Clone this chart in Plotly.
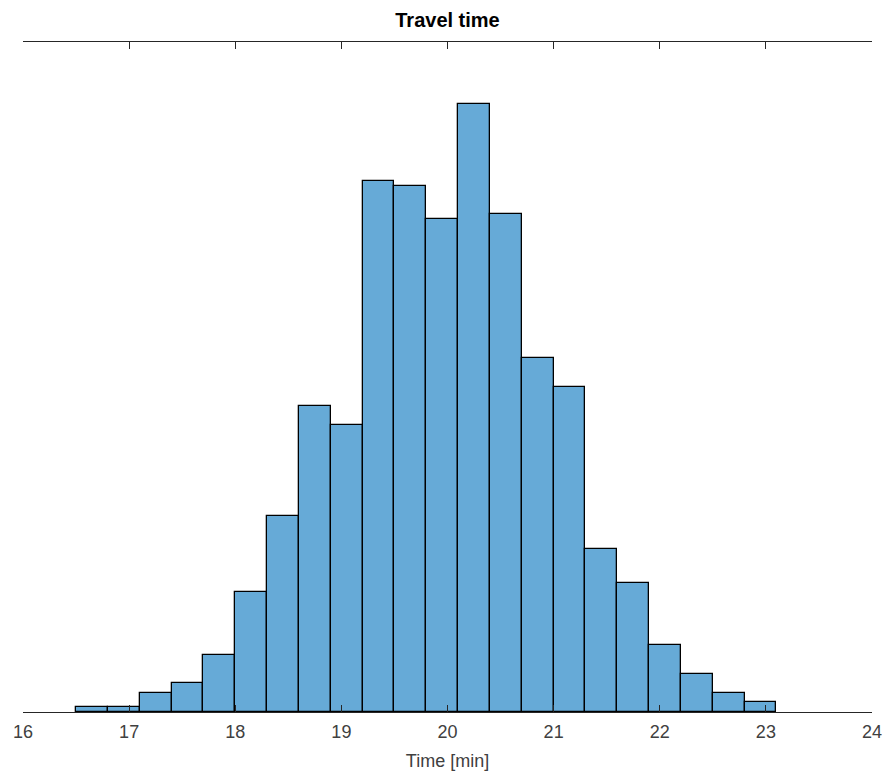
import plotly.graph_objects as go

# Histogram of simulated travel times (1000 trips), bins of 0.3 min
bin_left = [16.5, 16.8, 17.1, 17.4, 17.7, 18.0, 18.3, 18.6, 18.9, 19.2, 19.5,
            19.8, 20.1, 20.4, 20.7, 21.0, 21.3, 21.6, 21.9, 22.2, 22.5, 22.8]
bin_width = 0.3
counts = [1, 1, 4, 6, 12, 25, 41, 64, 60, 111, 110,
          103, 127, 104, 74, 68, 34, 27, 14, 8, 4, 2]
x_ticks = [16, 17, 18, 19, 20, 21, 22, 23, 24]

fig = go.Figure(
    go.Bar(
        x=bin_left,
        y=counts,
        width=bin_width,
        offset=0,
        marker=dict(color="#66AAD7", line=dict(color="#000000", width=1.3)),
        hoverinfo="x+y",
    )
)

fig.update_layout(
    width=884,
    height=773,
    margin=dict(l=23, r=12, t=42, b=61, autoexpand=False),
    paper_bgcolor="white",
    plot_bgcolor="white",
    showlegend=False,
    bargap=0,
    font=dict(family="Liberation Sans, Arial, sans-serif", size=18, color="#404040"),
    title=dict(
        text="<b>Travel time</b>",
        x=0.5 * (23 + 872) / 884,
        xanchor="center",
        y=1 - 20 / 773,
        yanchor="middle",
        font=dict(size=20, color="#000000"),
    ),
)

fig.update_xaxes(
    range=[16, 24],
    tickvals=x_ticks,
    ticktext=[str(t) for t in x_ticks],
    ticks="inside",
    ticklen=7,
    tickwidth=1.2,
    tickcolor="#262626",
    ticklabelstandoff=3,
    showline=True,
    linecolor="#262626",
    linewidth=1.3,
    mirror="ticks",
    showgrid=False,
    zeroline=False,
    automargin=False,
    title=dict(text="Time [min]", standoff=13, font=dict(size=18, color="#404040")),
)

fig.update_yaxes(range=[0, 140], visible=False)

fig.write_html("out.html")
